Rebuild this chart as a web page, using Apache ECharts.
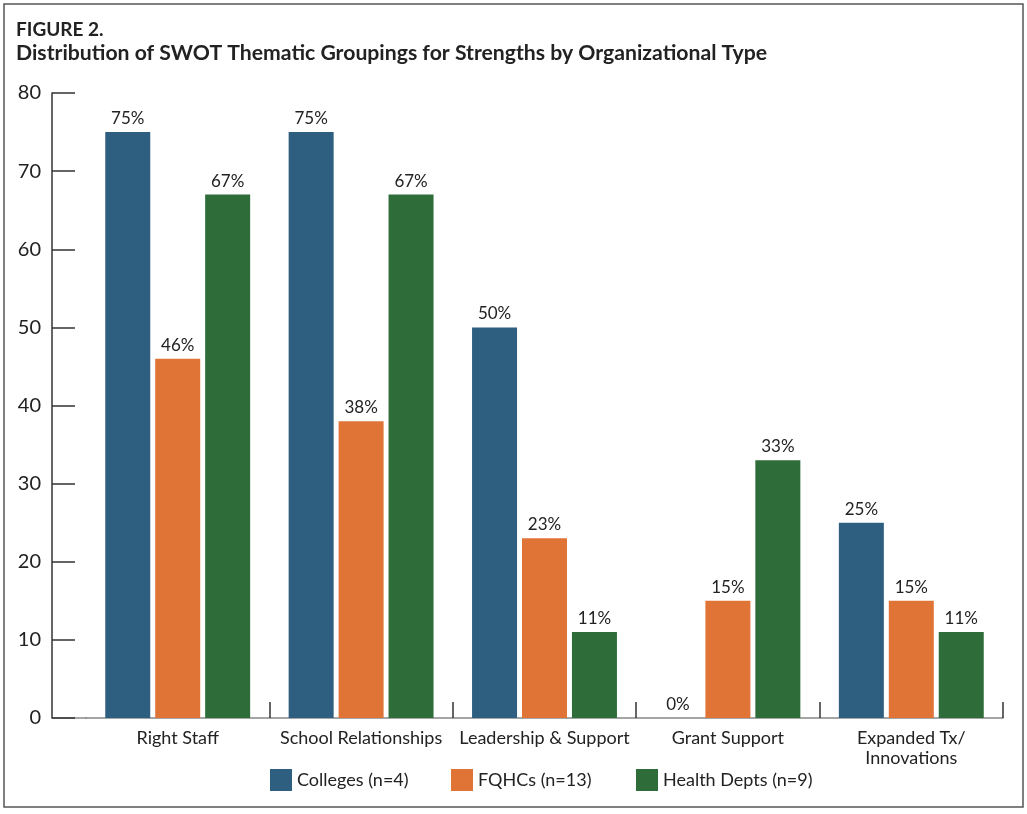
<!DOCTYPE html>
<html>
<head>
<meta charset="utf-8">
<script src="https://cdn.jsdelivr.net/npm/echarts@6/dist/echarts.min.js"></script>
<style>
html,body{margin:0;padding:0;background:#fff;}
#chart{width:1027px;height:814px;}
</style>
</head>
<body>
<div id="chart"></div>
<script>
const categories = ['Right Staff', 'School Relationships', 'Leadership & Support', 'Grant Support', 'Expanded Tx/\nInnovations'];
const seriesNames = ['Colleges (n=4)', 'FQHCs (n=13)', 'Health Depts (n=9)'];
const colleges = [75, 75, 50, 0, 25];
const fqhcs = [46, 38, 23, 15, 15];
const healthDepts = [67, 67, 11, 33, 11];
const yTicks = { min: 0, max: 80, interval: 10 };
const colors = ['#2e5f80', '#e07336', '#2e6c39'];

const FONT = 'Lato, "Open Sans", sans-serif';
const chart = echarts.init(document.getElementById('chart'));
const values = [colleges, fqhcs, healthDepts];
const legendLefts = [270, 451, 636];

const option = {
  animation: false,
  textStyle: { fontFamily: FONT },
  graphic: [
    { type: 'rect', shape: { x: 4, y: 4, width: 1019, height: 803 }, style: { fill: 'none', stroke: '#555', lineWidth: 1.5 }, silent: true },
    { type: 'text', left: 16, top: 20, style: { text: 'FIGURE 2.', font: 'bold 19px ' + FONT, fill: '#222' } },
    { type: 'text', left: 16, top: 43, style: { text: 'Distribution of SWOT Thematic Groupings for Strengths by Organizational Type', font: 'bold 21.2px ' + FONT, fill: '#222' } },
    { type: 'line', shape: { x1: 52, y1: 718, x2: 87, y2: 718 }, style: { stroke: '#888', lineWidth: 1.5 }, silent: true }
  ],
  legend: seriesNames.map((name, k) => ({
    left: legendLefts[k], top: 769, padding: 0,
    itemWidth: 22, itemHeight: 22, itemGap: 0,
    icon: 'rect',
    textStyle: { fontSize: 18, color: '#222', fontFamily: FONT },
    data: [name]
  })),
  grid: { left: 86, right: 24, top: 93, bottom: 96, containLabel: false },
  xAxis: {
    type: 'category',
    data: categories,
    axisLine: { show: true, lineStyle: { color: '#888', width: 1.5 } },
    axisTick: { show: true, inside: true, length: 16, lineStyle: { color: '#333', width: 1.5 }, interval: function (i) { return i !== 0; } },
    axisLabel: { interval: 0, fontSize: 18, color: '#222', margin: 10, lineHeight: 20, fontFamily: FONT }
  },
  yAxis: {
    type: 'value',
    min: yTicks.min, max: yTicks.max, interval: yTicks.interval,
    offset: 34,
    splitLine: { show: false },
    axisLine: { show: true, lineStyle: { color: '#333', width: 1.5 } },
    axisTick: { show: true, inside: true, length: 23, lineStyle: { color: '#333', width: 1.5 } },
    axisLabel: { fontSize: 20, color: '#222', margin: 11, fontFamily: FONT }
  },
  series: seriesNames.map((name, k) => ({
    name: name,
    type: 'bar',
    data: values[k],
    barWidth: 45,
    barGap: '11%',
    itemStyle: { color: colors[k] },
    label: { show: true, position: 'top', distance: 5, formatter: '{c}%', fontSize: 17, color: '#222', fontFamily: FONT }
  }))
};
chart.setOption(option);
</script>
</body>
</html>
